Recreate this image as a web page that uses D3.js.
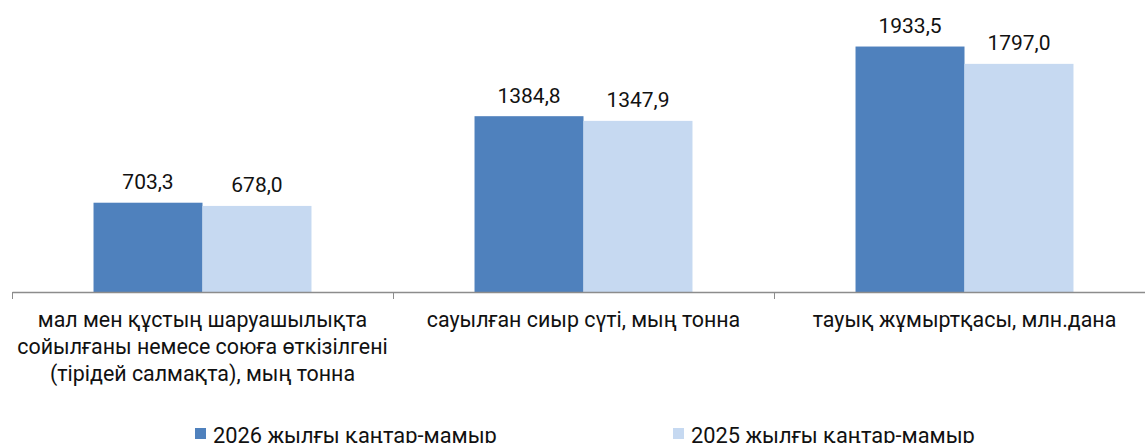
<!DOCTYPE html>
<meta charset="utf-8">
<style>
body { margin: 0; background: #fff; }
text { font-family: Roboto, "Noto Sans", sans-serif; fill: #111; }
.axis path, .axis line { stroke: #8c8c8c; }
</style>

<svg width="1145" height="443"></svg>

<script src="https://cdnjs.cloudflare.com/ajax/libs/d3/7.8.5/d3.min.js"></script>
<script>

// categories (each label split in lines as in the picture)
var categories = ["mal", "sut", "zhumyrtqa"];
var categoryLines = [
  ["мал мен құстың шаруашылықта", "сойылғаны немесе союға өткізілгені", "(тірідей салмақта), мың тонна"],
  ["сауылған сиыр сүті, мың тонна"],
  ["тауық жұмыртқасы, млн.дана"]
];

var seriesNames = ["2026 жылғы қаңтар-мамыр", "2025 жылғы қаңтар-мамыр"];
var values2026 = [703.3, 1384.8, 1933.5];
var values2025 = [678.0, 1347.9, 1797.0];
var colours = ["#4f81bd", "#c6d9f1"];

var svg = d3.select("svg"),
    width = +svg.attr("width"),
    height = +svg.attr("height");

var baseY = 292;

var x = d3.scaleBand()
    .domain(categories)
    .range([12, 1155])
    .paddingInner(0)
    .paddingOuter(0);

var xs = d3.scaleBand()
    .domain([0, 1])
    .range([0, x.bandwidth()])
    .paddingInner(0)
    .paddingOuter(0.748);

var y = d3.scaleLinear()
    .domain([0, 2300])
    .range([baseY, 0]);

// flatten to one row per bar
var bars = [];
categories.forEach(function(c, i) {
  bars.push({cat: c, s: 0, v: values2026[i]});
  bars.push({cat: c, s: 1, v: values2025[i]});
});

svg.append("g")
    .selectAll("rect")
    .data(bars)
    .enter().append("rect")
    .attr("x", function(d) { return x(d.cat) + xs(d.s); })
    .attr("y", function(d) { return y(d.v); })
    .attr("width", xs.bandwidth())
    .attr("height", function(d) { return baseY - y(d.v); })
    .style("fill", function(d) { return colours[d.s]; });

// value labels
svg.append("g")
    .selectAll("text")
    .data(bars)
    .enter().append("text")
    .attr("x", function(d) { return x(d.cat) + xs(d.s) + xs.bandwidth() / 2; })
    .attr("y", function(d) { return y(d.v) - 13.5; })
    .attr("text-anchor", "middle")
    .style("font-size", "21px")
    .text(function(d) { return d3.format(".1f")(d.v).replace(".", ","); });

// x axis: ticks at the category boundaries
var tickPos = categories.map(function(c) { return x(c); }).concat([x.range()[1]]);
var axisScale = d3.scaleLinear().domain([12, 1155]).range([12, 1155]);
var axis = svg.append("g")
    .attr("class", "axis")
    .attr("transform", "translate(0," + baseY + ")")
    .call(d3.axisBottom(axisScale).tickValues(tickPos).tickSize(7).tickSizeOuter(0).tickFormat(""));
axis.select(".domain").attr("stroke-width", 1.5);

// category labels
var labels = svg.append("g")
    .selectAll("text")
    .data(categories)
    .enter().append("text")
    .attr("text-anchor", "middle")
    .style("font-size", "21.4px");

labels.each(function(c, i) {
  var t = d3.select(this);
  categoryLines[i].forEach(function(line, j) {
    t.append("tspan")
      .attr("x", x(c) + x.bandwidth() / 2)
      .attr("y", 327 + j * 27)
      .text(line);
  });
});

// legend
var legendX = [195, 673];
var legend = svg.append("g")
    .selectAll("g")
    .data(seriesNames)
    .enter().append("g")
    .attr("transform", function(d, i) { return "translate(" + legendX[i] + ",0)"; });

legend.append("rect")
    .attr("x", 0)
    .attr("y", 428)
    .attr("width", 11)
    .attr("height", 11)
    .style("fill", function(d, i) { return colours[i]; });

legend.append("text")
    .attr("x", 18)
    .attr("y", 442.5)
    .style("font-size", "21.8px")
    .text(function(d) { return d; });

</script>
